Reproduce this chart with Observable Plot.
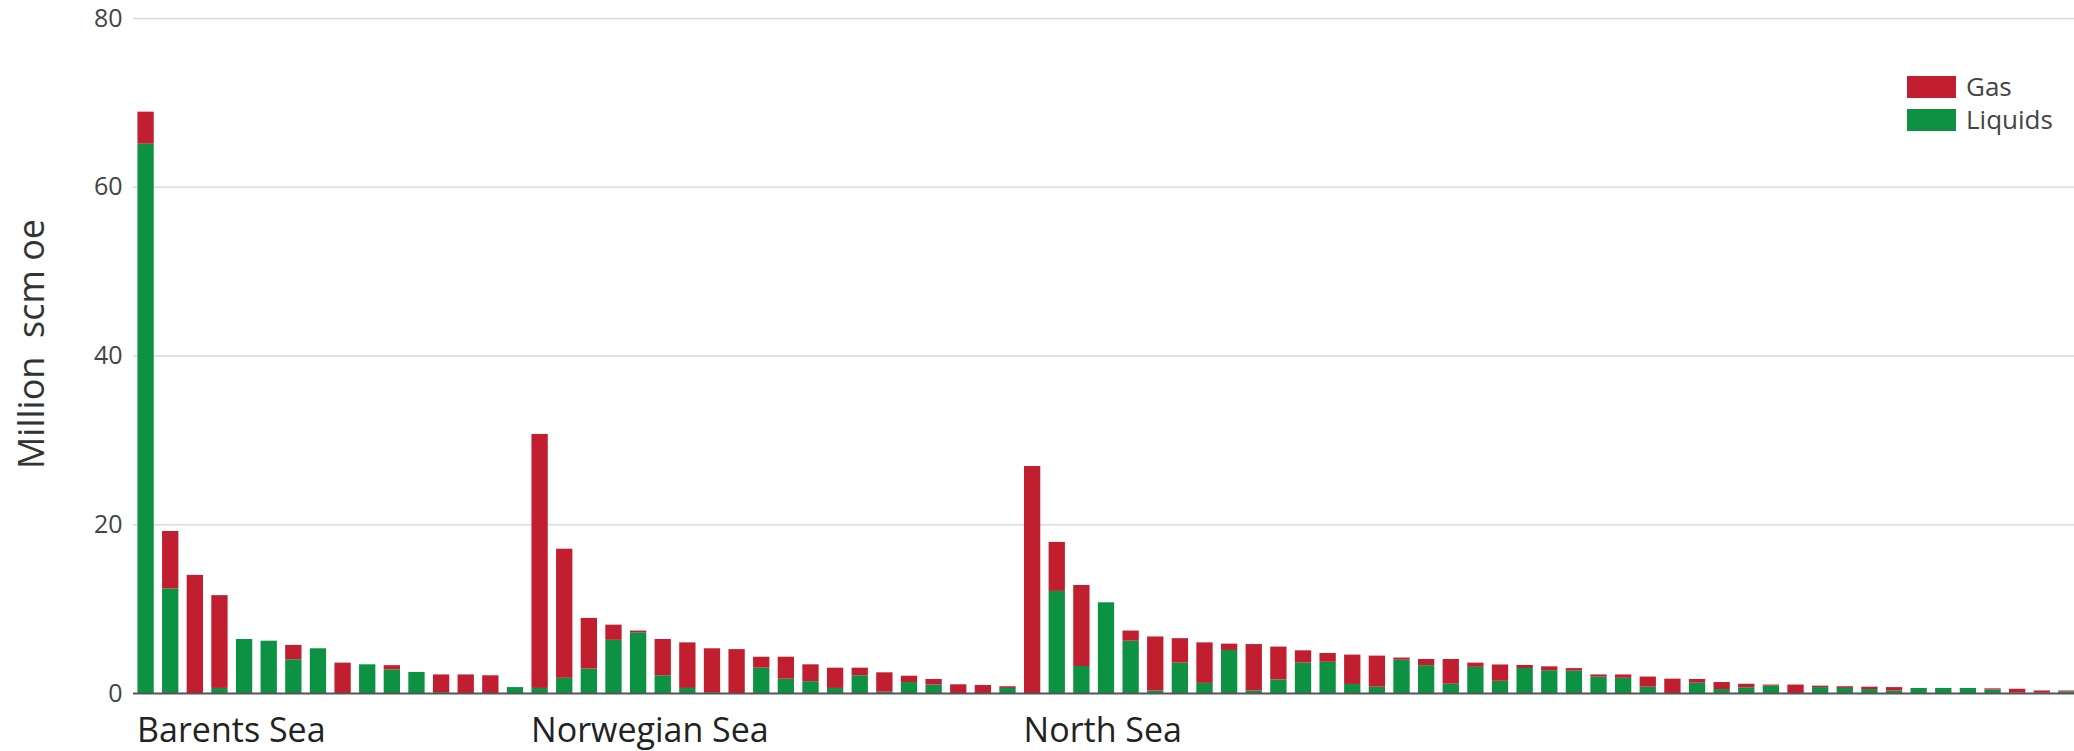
<!DOCTYPE html>
<html>
<head>
<meta charset="utf-8">
<script src="https://cdn.jsdelivr.net/npm/d3@7"></script>
<script src="https://cdn.jsdelivr.net/npm/@observablehq/plot@0.6"></script>
<style>
  html, body { margin: 0; padding: 0; background: #fff; }
  #wrap { position: relative; width: 2074px; height: 751px; font-family: "Open Sans", sans-serif; }
  #legend { position: absolute; left: 1907px; top: 70px; font-size: 26px; color: #444; line-height: 33px; }
  #legend .row { display: flex; align-items: center; height: 33px; }
  #legend .sw { width: 49px; height: 22px; margin-right: 10px; }
</style>
</head>
<body>
<div id="wrap"></div>
<script>
const regions = ["Barents Sea", "Norwegian Sea", "North Sea"];
const seriesNames = ["Liquids", "Gas"];
const seriesColors = ["#0d9244", "#c11f30"];
const yTicks = [0, 20, 40, 60, 80];

const barentsLiquids = [65.1, 12.4, 0, 0.6, 6.4, 6.2, 4.0, 5.3, 0, 3.4, 2.8, 2.5, 0.1, 0, 0, 0.7];
const barentsGas     = [3.8, 6.8, 14.0, 11.0, 0, 0, 1.7, 0, 3.6, 0, 0.5, 0, 2.1, 2.2, 2.1, 0];

const norwegianLiquids = [0.6, 1.8, 2.9, 6.3, 7.2, 2.1, 0.6, 0.1, 0, 3.0, 1.7, 1.4, 0.6, 2.1, 0.15, 1.3, 1.0, 0, 0, 0.6];
const norwegianGas     = [30.1, 15.3, 6.0, 1.8, 0.2, 4.3, 5.4, 5.2, 5.2, 1.3, 2.6, 2.0, 2.4, 0.9, 2.3, 0.75, 0.66, 1.03, 0.95, 0.2];

const northLiquids = [0, 12.1, 3.2, 10.75, 6.2, 0.3, 3.6, 1.2, 5.1, 0.3, 1.6, 3.6, 3.7, 1.07, 0.75, 3.95, 3.3, 1.1, 3.1, 1.45,
                      2.96, 2.7, 2.65, 1.94, 1.8, 0.75, 0, 1.22, 0.47, 0.67, 0.87, 0, 0.7, 0.6, 0.47, 0.3, 0.6, 0.6, 0.6, 0.4,
                      0.05, 0.05, 0.2];
const northGas     = [26.9, 5.8, 9.6, 0, 1.2, 6.4, 2.9, 4.8, 0.75, 5.5, 3.9, 1.46, 1.04, 3.48, 3.68, 0.25, 0.73, 2.93, 0.5, 1.93,
                      0.36, 0.46, 0.3, 0.26, 0.4, 1.2, 1.7, 0.44, 0.83, 0.43, 0.13, 1.0, 0.17, 0.2, 0.28, 0.4, 0, 0, 0, 0.15,
                      0.45, 0.25, 0.1];

const regionData = [
  {region: regions[0], liquids: barentsLiquids, gas: barentsGas},
  {region: regions[1], liquids: norwegianLiquids, gas: norwegianGas},
  {region: regions[2], liquids: northLiquids, gas: northGas}
];

const rows = [];
const order = [];
const starts = [];
regionData.forEach(r => {
  r.liquids.forEach((v, i) => {
    const id = r.region + " " + (i + 1);
    order.push(id);
    if (i === 0) starts.push({id, name: r.region});
    rows.push({id, series: seriesNames[0], value: v});
    rows.push({id, series: seriesNames[1], value: r.gas[i]});
  });
});

const font = "'Open Sans', sans-serif";

const chart = Plot.plot({
  width: 2074,
  height: 751,
  marginTop: 18,
  marginBottom: 58,
  marginLeft: 133,
  marginRight: 0,
  style: {fontFamily: font, background: "#fff"},
  x: {domain: order, range: [133, 2079], paddingInner: 0.338, paddingOuter: 0.18, axis: null},
  y: {domain: [0, 80], ticks: yTicks, label: null, axis: null},
  color: {domain: seriesNames, range: seriesColors},
  marks: [
    Plot.gridY(yTicks.filter(t => t > 0), {stroke: "#d9d9d9", strokeOpacity: 1, strokeWidth: 1.5}),
    Plot.barY(rows, {x: "id", y: "value", fill: "series", order: seriesNames}),
    Plot.ruleY([0], {stroke: "#555", strokeWidth: 2}),
    Plot.axisY(yTicks, {tickSize: 0, tickPadding: 11, fontSize: 25, fill: "#444", label: null, fontFamily: font}),
    Plot.text(["Million\u00a0\u00a0scm oe"], {frameAnchor: "left", textAnchor: "middle", lineAnchor: "middle", rotate: -90, dx: -101, dy: -12, fontSize: 36, fill: "#333", fontFamily: font}),
    Plot.text(starts, {x: "id", text: "name", frameAnchor: "bottom", textAnchor: "start", lineAnchor: "bottom", dy: 48, dx: -9, fontSize: 34, fill: "#222", fontFamily: font})
  ]
});

const wrap = document.getElementById("wrap");
wrap.appendChild(chart);

const legend = document.createElement("div");
legend.id = "legend";
[1, 0].forEach(k => {
  const row = document.createElement("div");
  row.className = "row";
  const sw = document.createElement("div");
  sw.className = "sw";
  sw.style.background = seriesColors[k];
  const lab = document.createElement("span");
  lab.textContent = k === 1 ? "Gas" : "Liquids";
  row.appendChild(sw);
  row.appendChild(lab);
  legend.appendChild(row);
});
wrap.appendChild(legend);
</script>
</body>
</html>
